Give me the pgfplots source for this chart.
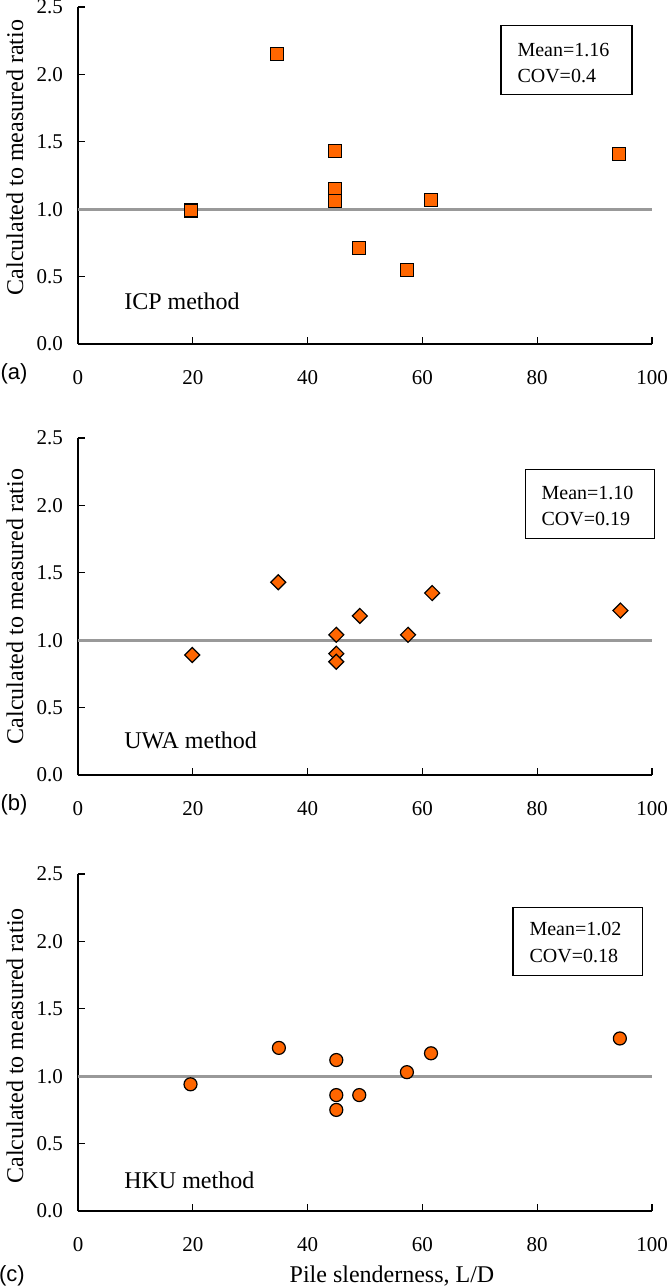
\documentclass[border=0pt]{standalone}
\usepackage{fontspec}
\setmainfont{Liberation Serif}
\newfontfamily\arialfont{Liberation Sans}
\usepackage{pgfplots}
\pgfplotsset{compat=1.18}

\definecolor{mkorange}{RGB}{255,102,0}
\definecolor{refgray}{RGB}{153,153,153}

\tikzset{markstyle/.style={fill=mkorange, draw=black, line width=0.6pt}}

\pgfplotsset{
  panel/.style={
    scale only axis, width=287pt, height=168.5pt,
    xmin=0, xmax=100, ymin=0, ymax=2.5,
    axis x line*=bottom, axis y line*=left,
    xtick={0,20,...,100}, ytick={0,0.5,...,2.5},
    tick align=inside, major tick length=3.5pt,
    tick style={black, line width=0.6pt},
    axis line style={black, line width=0.6pt},
    /pgf/number format/assume math mode=true,
    yticklabel style={/pgf/number format/.cd, fixed, fixed zerofill, precision=1, /tikz/.cd,
      font=\fontsize{10.5}{12}\selectfont, xshift=-4pt},
    xticklabel style={font=\fontsize{10.5}{12}\selectfont, yshift=-9.5pt},
    ylabel={Calculated to measured ratio},
    clip=false,
  },
  ylab/.style={every axis y label/.style={at={(axis description cs:-0.11,#1)},
    rotate=90, anchor=center, font=\fontsize{12}{14}\selectfont}},
}

\begin{document}
\begin{tikzpicture}
\path[use as bounding box] (-39pt,-472pt) rectangle (295pt,172pt);

% (a) ICP
\begin{axis}[panel, ylab=0.553, at={(0pt,0pt)}, anchor=south west]
  \addplot[refgray, line width=1.5pt] coordinates {(0,1) (100,1)};
  \addplot[only marks, mark=square*, mark size=3.25pt, mark options={markstyle}] table {
    x y
    19.7 0.99
    34.7 2.15
    44.8 1.43
    44.8 1.15
    44.8 1.06
    49.0 0.71
    57.3 0.55
    61.5 1.07
    94.3 1.41
  };
  \node[anchor=west, inner sep=0pt, font=\fontsize{12}{14}\selectfont] at (axis cs:8,0.32) {ICP method};
  \draw[line width=0.6pt] (axis cs:73.7,2.36) rectangle (axis cs:96.5,1.85);
  \node[anchor=west, inner sep=0pt, font=\fontsize{10}{12}\selectfont] at (axis cs:76.5,2.18) {Mean=1.16};
  \node[anchor=west, inner sep=0pt, font=\fontsize{10}{12}\selectfont] at (axis cs:76.5,1.99) {COV=0.4};
  \node[font=\arialfont\fontsize{11}{13}\selectfont] at (axis description cs:-0.1115,-0.089) {(a)};
\end{axis}

% (b) UWA
\begin{axis}[panel, ylab=0.5, at={(0pt,-215.5pt)}, anchor=south west]
  \addplot[refgray, line width=1.5pt] coordinates {(0,1) (100,1)};
  \addplot[only marks, mark=square*, mark size=2.65pt, mark options={markstyle, rotate=45}] table {
    x y
    19.9 0.89
    34.9 1.43
    45.0 1.04
    45.0 0.90
    45.0 0.84
    49.1 1.18
    57.5 1.04
    61.7 1.35
    94.5 1.22
  };
  \node[anchor=west, inner sep=0pt, font=\fontsize{12}{14}\selectfont] at (axis cs:8,0.258) {UWA method};
  \draw[line width=0.6pt] (axis cs:77.9,2.264) rectangle (axis cs:100.5,1.755);
  \node[anchor=west, inner sep=0pt, font=\fontsize{10}{12}\selectfont] at (axis cs:80.7,2.094) {Mean=1.10};
  \node[anchor=west, inner sep=0pt, font=\fontsize{10}{12}\selectfont] at (axis cs:80.7,1.90) {COV=0.19};
  \node[font=\arialfont\fontsize{11}{13}\selectfont] at (axis description cs:-0.1115,-0.089) {(b)};
\end{axis}

% (c) HKU
\begin{axis}[panel, ylab=0.49, at={(0pt,-433.5pt)}, anchor=south west,
  xlabel={Pile slenderness, L/D},
  every axis x label/.style={at={(axis description cs:0.547,-0.193)}, anchor=center,
    font=\fontsize{12}{14}\selectfont}]
  \addplot[refgray, line width=1.5pt] coordinates {(0,1) (100,1)};
  \addplot[only marks, mark=*, mark size=3.25pt, mark options={markstyle}] table {
    x y
    19.6 0.94
    35.0 1.21
    45.0 1.12
    45.0 0.86
    45.0 0.75
    49.0 0.86
    57.3 1.03
    61.5 1.17
    94.4 1.28
  };
  \node[anchor=west, inner sep=0pt, font=\fontsize{12}{14}\selectfont] at (axis cs:8,0.23) {HKU method};
  \draw[line width=0.6pt] (axis cs:75.8,2.254) rectangle (axis cs:98.4,1.75);
  \node[anchor=west, inner sep=0pt, font=\fontsize{10}{12}\selectfont] at (axis cs:78.6,2.09) {Mean=1.02};
  \node[anchor=west, inner sep=0pt, font=\fontsize{10}{12}\selectfont] at (axis cs:78.6,1.89) {COV=0.18};
  \node[font=\arialfont\fontsize{11}{13}\selectfont] at (axis description cs:-0.115,-0.193) {(c)};
\end{axis}
\end{tikzpicture}
\end{document}
